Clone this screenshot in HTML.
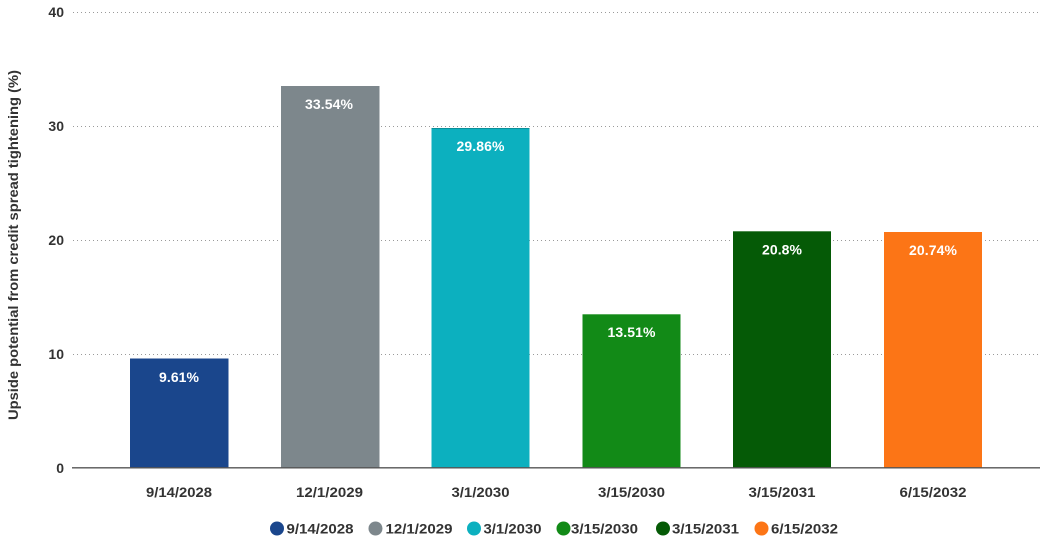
<!DOCTYPE html>
<html><head><meta charset="utf-8"><style>
html,body{margin:0;padding:0;background:#fff;}
svg{display:block;font-family:"Liberation Sans",sans-serif;}
</style></head><body>
<svg width="1044" height="540" viewBox="0 0 1044 540" xmlns="http://www.w3.org/2000/svg">
<g stroke="#9a9a9a" stroke-width="1" stroke-dasharray="1,3">
<line x1="73" y1="12.5" x2="1040" y2="12.5"/>
<line x1="73" y1="126.5" x2="1040" y2="126.5"/>
<line x1="73" y1="240.5" x2="1040" y2="240.5"/>
<line x1="73" y1="354.5" x2="1040" y2="354.5"/>
</g>
<g font-size="14" font-weight="bold" fill="#333" text-anchor="end">
<text x="64" y="17">40</text>
<text x="64" y="131">30</text>
<text x="64" y="245">20</text>
<text x="64" y="359">10</text>
<text x="64" y="473">0</text>
</g>
<text transform="translate(18,245) rotate(-90)" text-anchor="middle" font-size="14" font-weight="bold" fill="#333" textLength="350" lengthAdjust="spacingAndGlyphs">Upside potential from credit spread tightening (%)</text>
<rect x="130" y="358.5" width="98.5" height="109" fill="#1a468c"/>
<rect x="281" y="86" width="98.5" height="381.5" fill="#7d878c"/>
<rect x="431.5" y="128" width="98" height="339.5" fill="#0cb0bf"/>
<line x1="431.5" y1="128.5" x2="529.5" y2="128.5" stroke="#0a8f9a" stroke-width="1"/>
<rect x="582.5" y="314.3" width="98" height="153.2" fill="#128a17"/>
<rect x="733" y="231.3" width="98" height="236.2" fill="#055a06"/>
<rect x="884" y="232" width="98" height="235.5" fill="#fc7516"/>
<line x1="72" y1="467.8" x2="1040" y2="467.8" stroke="#555" stroke-width="1.3"/>
<g font-size="14" font-weight="bold" fill="#fff" text-anchor="middle" lengthAdjust="spacingAndGlyphs">
<text x="179" y="382" textLength="40">9.61%</text>
<text x="329" y="109" textLength="48">33.54%</text>
<text x="480.5" y="151" textLength="48">29.86%</text>
<text x="631.5" y="337" textLength="48">13.51%</text>
<text x="782" y="254.5" textLength="40">20.8%</text>
<text x="933" y="255" textLength="48">20.74%</text>
</g>
<g font-size="14" font-weight="bold" fill="#333" text-anchor="middle">
<text x="179" y="497" textLength="66" lengthAdjust="spacingAndGlyphs">9/14/2028</text>
<text x="329.5" y="497" textLength="67" lengthAdjust="spacingAndGlyphs">12/1/2029</text>
<text x="480.5" y="497" textLength="58" lengthAdjust="spacingAndGlyphs">3/1/2030</text>
<text x="631.5" y="497" textLength="67" lengthAdjust="spacingAndGlyphs">3/15/2030</text>
<text x="782" y="497" textLength="67" lengthAdjust="spacingAndGlyphs">3/15/2031</text>
<text x="933" y="497" textLength="67" lengthAdjust="spacingAndGlyphs">6/15/2032</text>
</g>
<g font-size="14" font-weight="bold" fill="#333">
<circle cx="277" cy="528.5" r="7" fill="#1a468c"/><text x="286.5" y="533.5" textLength="67" lengthAdjust="spacingAndGlyphs">9/14/2028</text>
<circle cx="375.5" cy="528.5" r="7" fill="#7d878c"/><text x="385.5" y="533.5" textLength="67" lengthAdjust="spacingAndGlyphs">12/1/2029</text>
<circle cx="474" cy="528.5" r="7" fill="#0cb0bf"/><text x="483.5" y="533.5" textLength="58" lengthAdjust="spacingAndGlyphs">3/1/2030</text>
<circle cx="563.5" cy="528.5" r="7" fill="#128a17"/><text x="571" y="533.5" textLength="67" lengthAdjust="spacingAndGlyphs">3/15/2030</text>
<circle cx="663" cy="528.5" r="7" fill="#055a06"/><text x="672" y="533.5" textLength="67" lengthAdjust="spacingAndGlyphs">3/15/2031</text>
<circle cx="761.5" cy="528.5" r="7" fill="#fc7516"/><text x="771" y="533.5" textLength="67" lengthAdjust="spacingAndGlyphs">6/15/2032</text>
</g>
</svg>
</body></html>
